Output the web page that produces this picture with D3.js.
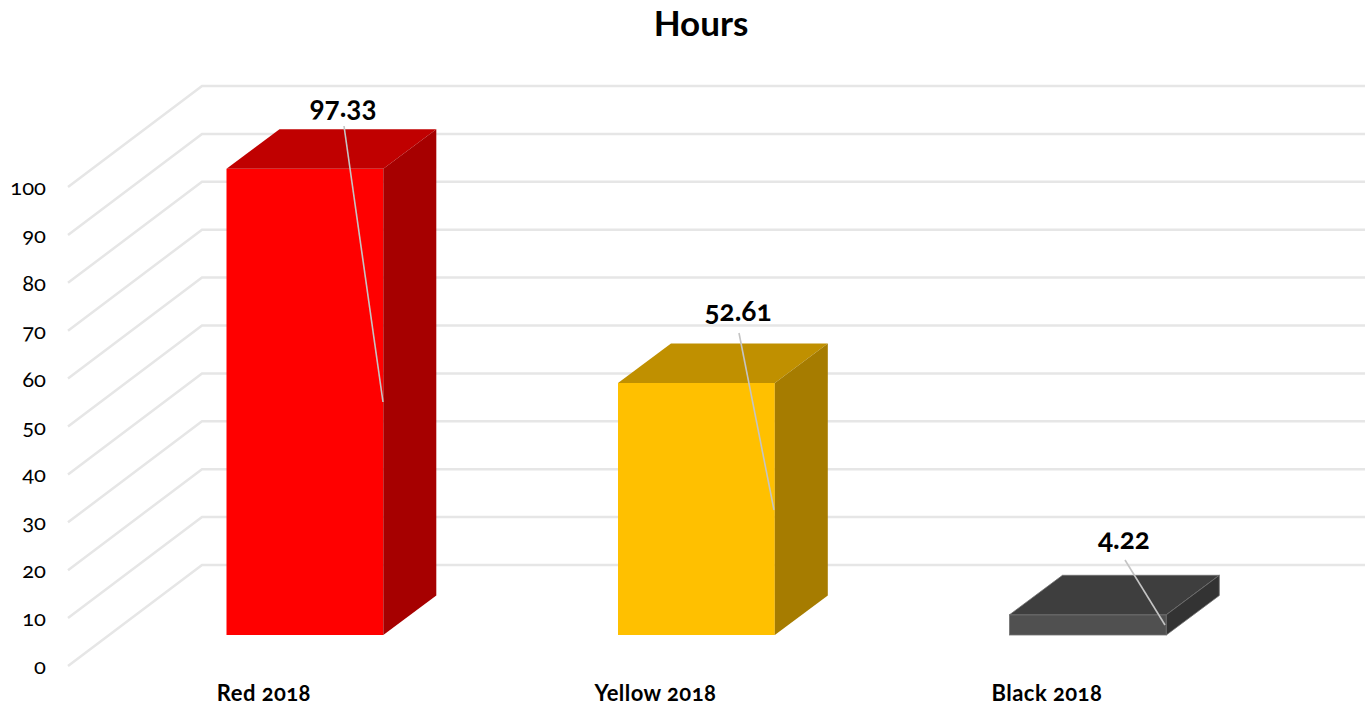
<!DOCTYPE html>
<html><head><meta charset="utf-8"><style>html,body{margin:0;padding:0;background:#fff}svg{display:block}text{font-family:Lato,"Open Sans",sans-serif;font-weight:700;fill:#000;font-variant-numeric:oldstyle-nums;font-feature-settings:"onum" 1}</style>
<script src="https://cdnjs.cloudflare.com/ajax/libs/d3/7.8.5/d3.min.js"></script></head><body><script>
const categories=["Red 2018","Yellow 2018","Black 2018"];
const values=[97.33,52.61,4.22];
const labels=["97.33","52.61","4.22"];
const ticks=[0,10,20,30,40,50,60,70,80,90,100];
const frontColors=["#ff0000","#ffc000","#505050"];
const topColors=["#c00000","#c09000","#3e3e3e"];
const sideColors=["#a60000","#a67c00","#333333"];
const edgeColors=["none","none","#707070"];
const leaderStart=[[344,126],[739,333],[1125,560]];
const leaderEnd=[[383,402],[774,510],[1165,625]];
const labelPos=[[343,117],[738,321],[1124,549]];
const W=1365,H=706;
const svg=d3.select("body").append("svg").attr("width",W).attr("height",H);
const y=d3.scaleLinear().domain([0,100]).range([666,187]);
const gridDx=134,gridDy=-101,gridX=68;
const bx=d3.scaleLinear().domain([0,1]).range([226.5,618]);
const bw=156.8,bdx=53,bdy=-39.5,base=635,zero=y(0);
const py=v=>y(v)-(zero-base);
ticks.forEach(t=>{
 svg.append("path").attr("d",`M${gridX},${y(t)}L${gridX+gridDx},${y(t)+gridDy}L${W},${y(t)+gridDy}`).attr("fill","none").attr("stroke","#e6e6e6").attr("stroke-width",2.5);
 svg.append("text").attr("x",46).attr("y",y(t)+8).attr("text-anchor","end").style("font-size","22px").style("font-weight",400).text(t);
});
categories.forEach((c,i)=>{
 const x0=bx(i),x1=x0+bw,t=py(values[i]);
 const g=svg.append("g").attr("stroke",edgeColors[i]).attr("stroke-width",0.8);
 g.append("rect").attr("x",x0).attr("y",t).attr("width",bw).attr("height",base-t).attr("fill",frontColors[i]);
 g.append("path").attr("d",`M${x0},${t}L${x0+bdx},${t+bdy}L${x1+bdx},${t+bdy}L${x1},${t}Z`).attr("fill",topColors[i]);
 g.append("path").attr("d",`M${x1},${t}L${x1+bdx},${t+bdy}L${x1+bdx},${base+bdy}L${x1},${base}Z`).attr("fill",sideColors[i]);
 svg.append("line").attr("x1",leaderStart[i][0]).attr("y1",leaderStart[i][1]).attr("x2",leaderEnd[i][0]).attr("y2",leaderEnd[i][1]).attr("stroke","#c4c4c4").attr("stroke-width",1.6);
 svg.append("text").attr("x",labelPos[i][0]).attr("y",labelPos[i][1]).attr("text-anchor","middle").style("font-size","28px").text(labels[i]);
 svg.append("text").attr("x",x0+bw/2-41).attr("y",701).attr("text-anchor","middle").style("font-size","22px").style("letter-spacing","0.45px").text(c);
});
svg.append("text").attr("x",701).attr("y",36).attr("text-anchor","middle").style("font-size","35px").text("Hours");
</script></body></html>
